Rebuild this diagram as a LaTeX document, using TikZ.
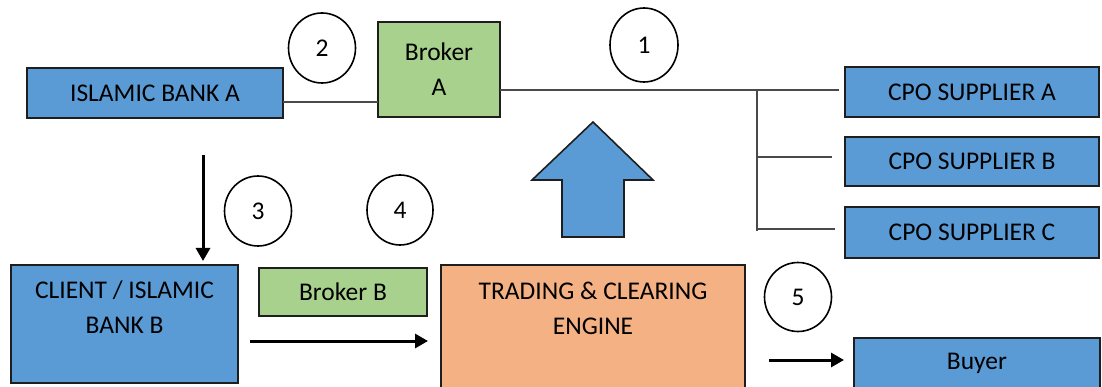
\documentclass[tikz,border=0pt]{standalone}
\usepackage{fontspec}
\setmainfont{Carlito}
\usetikzlibrary{shapes.geometric,arrows.meta}
\definecolor{boxblue}{HTML}{5B9BD5}
\definecolor{boxgreen}{HTML}{A9D18E}
\definecolor{boxorange}{HTML}{F4B183}
\definecolor{linegray}{HTML}{4A4A4A}
\definecolor{edgedark}{HTML}{1E1E1E}
\tikzset{
  box/.style={draw=edgedark, line width=2pt, anchor=north west, inner sep=0pt, outer sep=0pt,
    align=center, font=\fontsize{25.5}{35}\selectfont},
  bluebox/.style={box, fill=boxblue},
  greenbox/.style={box, fill=boxgreen},
  orangebox/.style={box, fill=boxorange},
  toplabel/.style={align=center, font=\fontsize{25.5}{35}\selectfont, inner sep=0pt},
  numcircle/.style={draw=black, line width=1.6pt, ellipse, fill=white, inner sep=0pt,
    font=\fontsize{25.5}{30}\selectfont},
  thinline/.style={draw=linegray, line width=1.3pt},
  flowarrow/.style={draw=black, line width=3pt, -{Triangle[length=13pt,width=14pt]}},
}
\begin{document}
\begin{tikzpicture}[x=1pt,y=-1pt]
\useasboundingbox (0,0) rectangle (1102,387);
\clip (0,0) rectangle (1102,387);
% boxes
\node[bluebox, minimum width=256pt, minimum height=50pt] (bankA) at (27,68) {ISLAMIC BANK A};
\node[greenbox, minimum width=122pt, minimum height=95pt] (brokerA) at (378,22) {Broker\\A};
\node[bluebox, minimum width=254pt, minimum height=50pt] (cpoA) at (845,67) {CPO SUPPLIER A};
\node[bluebox, minimum width=254pt, minimum height=49pt] (cpoB) at (845,137) {CPO SUPPLIER B};
\node[bluebox, minimum width=254pt, minimum height=51pt] (cpoC) at (845,207) {CPO SUPPLIER C};
\node[bluebox, minimum width=227pt, minimum height=118pt,
  label={[toplabel, yshift=17pt]center:{CLIENT / ISLAMIC\\BANK B}}] (bankB) at (11,265) {};
\node[greenbox, minimum width=168pt, minimum height=48pt] (brokerB) at (259,268) {Broker B};
\node[orangebox, minimum width=304pt, minimum height=150pt,
  label={[toplabel, yshift=32pt]center:{TRADING \& CLEARING\\ENGINE}}] (engine) at (441,265) {};
\node[bluebox, minimum width=246pt, minimum height=50pt] (buyer) at (854,338) {Buyer};
% number circles
\node[numcircle, minimum width=67pt, minimum height=70pt] (n2) at (322,48) {2};
\node[numcircle, minimum width=68pt, minimum height=74pt] (n1) at (644,45) {1};
\node[numcircle, minimum width=67pt, minimum height=70pt] (n3) at (258,211) {3};
\node[numcircle, minimum width=66pt, minimum height=70pt] (n4) at (400,210) {4};
\node[numcircle, minimum width=67pt, minimum height=69pt] (n5) at (798,297) {5};
% big up arrow
\draw[fill=boxblue, draw=edgedark, line width=1.6pt, line join=miter]
  (562,237) -- (562,180) -- (532,180) -- (593,122) -- (653,180) -- (624,180) -- (624,237) -- cycle;
% thin connectors
\coordinate (jA) at (757,90);
\coordinate (jC) at (757,231);
\draw[thinline] (bankA.east |- 0,102) -- (brokerA.west |- 0,102);
\draw[thinline, shorten >=6pt] (brokerA.east |- jA) -- (cpoA.west |- jA);
\draw[thinline] (jA) -- (jC);
\draw[thinline, shorten >=13pt] (757,157) -- (cpoB.west |- 0,157);
\draw[thinline, shorten >=10pt] (757,229) -- (cpoC.west |- 0,229);
% flow arrows
\coordinate (a3s) at (203,155);
\draw[flowarrow, shorten >=4pt] (a3s) -- (a3s |- bankB.north);
\coordinate (a4s) at (250,341);
\draw[flowarrow, shorten >=13pt] (a4s) -- (engine.west |- a4s);
\coordinate (a5s) at (769,360);
\draw[flowarrow, shorten >=10pt] (a5s) -- (buyer.west |- a5s);
\end{tikzpicture}
\end{document}
